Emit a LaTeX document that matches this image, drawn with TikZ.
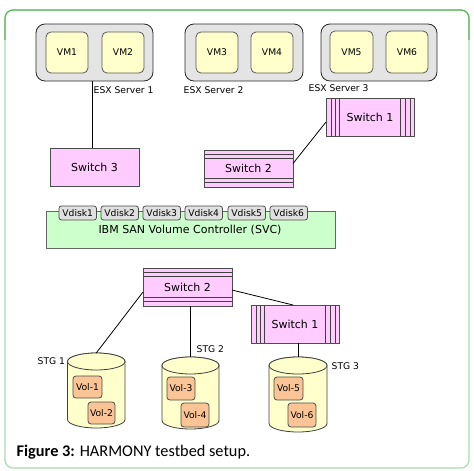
\documentclass[tikz,border=0pt]{standalone}
\usepackage{fontspec}
\setmainfont{DejaVu Sans}
\newfontfamily\capfont{Carlito}
\usetikzlibrary{calc}
\definecolor{framelight}{RGB}{176,216,176}
\definecolor{framedark}{RGB}{92,184,92}
\definecolor{srvfill}{RGB}{228,228,228}
\definecolor{vmfill}{RGB}{255,255,204}
\definecolor{swfill}{RGB}{255,204,255}
\definecolor{svcfill}{RGB}{204,255,204}
\definecolor{vdfill}{RGB}{224,224,224}
\definecolor{volfill}{RGB}{250,196,150}
\definecolor{cylfill}{RGB}{255,255,204}
\definecolor{edge}{RGB}{40,40,40}
\tikzset{
  box/.style={anchor=north west, inner sep=0pt, outer sep=0pt, draw=edge, line width=0.8pt,
    font=\fontsize{9.2}{10}\selectfont},
  server/.style={box, fill=srvfill, rounded corners=9pt},
  vm/.style={box, fill=vmfill, rounded corners=5pt, draw=black!65},
  switchbox/.style={box, fill=swfill, draw=black!70, font=\fontsize{11}{12}\selectfont},
  hstripes/.style={path picture={
    \draw[black!75,line width=0.7pt]
      ($(path picture bounding box.north west)+(0,4.4)$) -- ($(path picture bounding box.north east)+(0,4.4)$)
      ($(path picture bounding box.north west)+(0,8.8)$) -- ($(path picture bounding box.north east)+(0,8.8)$)
      ($(path picture bounding box.south west)+(0,-8.2)$) -- ($(path picture bounding box.south east)+(0,-8.2)$)
      ($(path picture bounding box.south west)+(0,-4.2)$) -- ($(path picture bounding box.south east)+(0,-4.2)$);}},
  vstripes/.style={path picture={
    \draw[black!75,line width=0.7pt]
      ($(path picture bounding box.north west)+(5,0)$) -- ($(path picture bounding box.south west)+(5,0)$)
      ($(path picture bounding box.north west)+(9.6,0)$) -- ($(path picture bounding box.south west)+(9.6,0)$)
      ($(path picture bounding box.north west)+(13.4,0)$) -- ($(path picture bounding box.south west)+(13.4,0)$)
      ($(path picture bounding box.north east)+(-4,0)$) -- ($(path picture bounding box.south east)+(-4,0)$)
      ($(path picture bounding box.north east)+(-8.5,0)$) -- ($(path picture bounding box.south east)+(-8.5,0)$)
      ($(path picture bounding box.north east)+(-13.2,0)$) -- ($(path picture bounding box.south east)+(-13.2,0)$);}},
  svcbox/.style={box, fill=svcfill, draw=black!60, font=\fontsize{11}{12}\selectfont},
  vdisk/.style={box, fill=vdfill, rounded corners=2.5pt, draw=black!70, minimum width=37.5pt, minimum height=14pt},
  vol/.style={box, fill=volfill, rounded corners=3pt, draw=black!70},
  lbl/.style={anchor=west, inner sep=0pt, font=\fontsize{9.2}{10}\selectfont},
  cyl/.style={fill=cylfill, draw=black!75, line width=0.8pt},
  conn/.style={draw=black, line width=0.8pt}
}
\begin{document}
\begin{tikzpicture}[x=1pt,y=-1pt]
\useasboundingbox (0,0) rectangle (474,471);
\fill[white] (0,0) rectangle (474,471);
% frame
\draw[framelight, line width=1.2pt, rounded corners=8pt] (5,10) rectangle (469,468);
\draw[framedark, line width=1.2pt, rounded corners=8pt] (5,40) -- (5,10) -- (469,10) -- (469,40);

% ESX servers
\node[server, minimum width=117pt, minimum height=57pt] (esx1) at (36,24) {};
\node[vm, minimum width=42pt, minimum height=41pt] (vm1) at (46,32) {VM1};
\node[vm, minimum width=42pt, minimum height=41pt] (vm2) at (102,32) {VM2};
\node[server, minimum width=118pt, minimum height=57pt] (esx2) at (185,24) {};
\node[vm, minimum width=42pt, minimum height=41pt] (vm3) at (196,32) {VM3};
\node[vm, minimum width=42pt, minimum height=41pt] (vm4) at (251,32) {VM4};
\node[server, minimum width=116pt, minimum height=57pt] (esx3) at (321,24) {};
\node[vm, minimum width=43pt, minimum height=42pt] (vm5) at (330,31) {VM5};
\node[vm, minimum width=42pt, minimum height=42pt] (vm6) at (386,31) {VM6};

\node[lbl] (esxl1) at (93.5,90) {ESX Server 1};
\node[lbl] (esxl2) at (183.5,90) {ESX Server 2};
\node[lbl] (esxl3) at (308.5,88.5) {ESX Server 3};

% switches
\node[switchbox, minimum width=89pt, minimum height=38pt] (sw3) at (50,148) {Switch 3};
\node[switchbox, hstripes, minimum width=89pt, minimum height=37pt] (sw2a) at (204,150) {Switch 2};
\node[switchbox, vstripes, minimum width=88pt, minimum height=38pt] (sw1a) at (326,98) {Switch 1};

% SVC
\node[svcbox, minimum width=289pt, minimum height=37pt] (svc) at (46,211) {};
\node[font=\fontsize{11}{12}\selectfont, inner sep=0pt] (svct) at (190,230) {IBM SAN Volume Controller (SVC)};
\node[vdisk] (vd1) at (59,206) {Vdisk1};
\node[vdisk] (vd2) at (101,206) {Vdisk2};
\node[vdisk] (vd3) at (143,206) {Vdisk3};
\node[vdisk] (vd4) at (185,206) {Vdisk4};
\node[vdisk] (vd5) at (228,206) {Vdisk5};
\node[vdisk] (vd6) at (270,206) {Vdisk6};

\node[switchbox, hstripes, minimum width=89pt, minimum height=38pt] (sw2b) at (143,268) {Switch 2};
\node[switchbox, vstripes, minimum width=88pt, minimum height=38pt] (sw1b) at (251,305) {Switch 1};

% cylinders
\filldraw[cyl] (67.5,361.5) -- (67.5,419.5) arc[start angle=180,end angle=360,x radius=28.75pt,y radius=8.5pt]
  -- (125,361.5) arc[start angle=0,end angle=180,x radius=28.75pt,y radius=8.5pt] -- cycle;
\draw[cyl] (96.25,361.5) ellipse[x radius=28.75pt,y radius=8.5pt];
\coordinate (stg1) at (96.25,353);

\filldraw[cyl] (162,365.5) -- (162,420.5) arc[start angle=180,end angle=360,x radius=28.5pt,y radius=8.5pt]
  -- (219,365.5) arc[start angle=0,end angle=180,x radius=28.5pt,y radius=8.5pt] -- cycle;
\draw[cyl] (190.5,365.5) ellipse[x radius=28.5pt,y radius=8.5pt];
\coordinate (stg2) at (190.5,357);

\filldraw[cyl] (269,365.5) -- (269,423.5) arc[start angle=180,end angle=360,x radius=29pt,y radius=8.5pt]
  -- (327,365.5) arc[start angle=0,end angle=180,x radius=29pt,y radius=8.5pt] -- cycle;
\draw[cyl] (298,365.5) ellipse[x radius=29pt,y radius=8.5pt];
\coordinate (stg3) at (298,357);

\node[lbl] (stgl1) at (37.5,361) {STG 1};
\node[lbl] (stgl2) at (196.5,349) {STG 2};
\node[lbl] (stgl3) at (331.5,366) {STG 3};

% volumes
\node[vol, minimum width=29pt, minimum height=22pt] (v1) at (73,376) {Vol-1};
\node[vol, minimum width=27pt, minimum height=22pt] (v2) at (88,402) {Vol-2};
\node[vol, minimum width=28pt, minimum height=23pt] (v3) at (167,377) {Vol-3};
\node[vol, minimum width=28pt, minimum height=24pt] (v4) at (181,403) {Vol-4};
\node[vol, minimum width=29pt, minimum height=23pt] (v5) at (274,377) {Vol-5};
\node[vol, minimum width=28pt, minimum height=24pt] (v6) at (288,403) {Vol-6};

% connectors
\draw[conn] ($(esx1.south)+(-2.5,0)$) -- ($(sw3.north)+(-2.5,0)$);
\draw[conn] ($(sw3.south)+(-2.5,0)$) -- ($(sw3.south)+(-2.5,0)$ |- vd1.north);
\draw[conn] ($(esx2.south)+(2,0)$) -- ($(esx2.south)+(2,0)$ |- sw2a.north);
\draw[conn] ($(esx3.south)+(-2,0)$) -- ($(esx3.south)+(-2,0)$ |- sw1a.north);
\draw[conn] ($(sw2a.east)+(0,-5)$) -- ($(sw1a.west)+(0,5)$);
\draw[conn] ($(sw2a.south)+(-2,0)$) -- ($(sw2a.south)+(-2,0)$ |- vd5.north);
\draw[conn] ($(svc.south)+(-4.5,0)$) -- ($(svc.south)+(-4.5,0)$ |- sw2b.north);
\draw[conn] ($(sw2b.west)+(0,5)$) -- (stg1);
\draw[conn] (sw2b.south -| stg2) -- (stg2);
\draw[conn] ($(sw2b.east)+(0,3)$) -- ($(sw1b.north)+(-2,0)$);
\draw[conn] (sw1b.south -| stg3) -- (stg3);

% caption
\node[anchor=west, inner sep=0pt, font=\capfont\fontsize{16.3}{18}\selectfont] (cap) at (16.5,452)
  {\textbf{Figure 3:} HARMONY testbed setup.};
\end{tikzpicture}
\end{document}
